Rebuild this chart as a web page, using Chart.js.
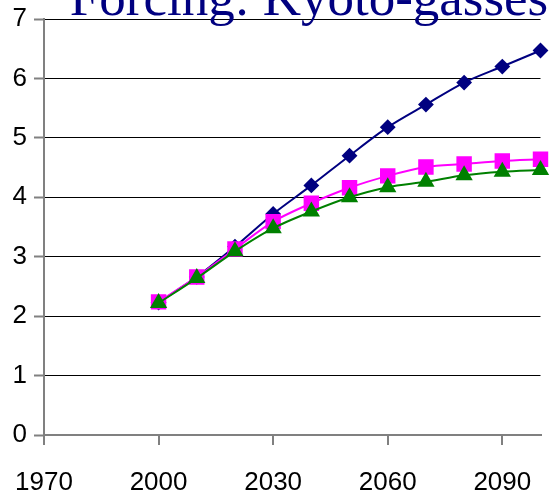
<!DOCTYPE html>
<html>
<head>
<meta charset="utf-8">
<script src="https://cdn.jsdelivr.net/npm/chart.js@4/dist/chart.umd.min.js"></script>
<style>
  html, body { margin: 0; padding: 0; background: #fff; }
  #wrap { width: 552px; height: 494px; position: relative; }
</style>
</head>
<body>
<div id="wrap"><canvas id="c" width="552" height="494"></canvas></div>
<script>
// Radiative forcing of Kyoto gases, three scenarios (W/m2)
const years = [2000, 2010, 2020, 2030, 2040, 2050, 2060, 2070, 2080, 2090, 2100];
const seriesHigh = [2.23, 2.66, 3.17, 3.72, 4.20, 4.70, 5.18, 5.56, 5.93, 6.20, 6.47];
const seriesMid  = [2.24, 2.66, 3.13, 3.59, 3.90, 4.16, 4.36, 4.51, 4.56, 4.61, 4.64];
const seriesLow  = [2.22, 2.64, 3.09, 3.48, 3.76, 4.00, 4.17, 4.26, 4.37, 4.43, 4.46];
const xTickValues = [1970, 2000, 2030, 2060, 2090];
const yTickValues = [0, 1, 2, 3, 4, 5, 6, 7];
const titleText = 'Forcing: Kyoto-gasses';

const toPoints = vals => years.map((yr, i) => ({ x: yr, y: vals[i] }));

const titlePlugin = {
  id: 'serifTitle',
  afterDraw(chart) {
    const ctx = chart.ctx;
    ctx.save();
    ctx.font = '53px "Liberation Serif", "Times New Roman", serif';
    ctx.fillStyle = '#000080';
    ctx.textAlign = 'center';
    ctx.textBaseline = 'alphabetic';
    ctx.fillText(titleText, 309, 15);
    ctx.restore();
  }
};

const tickFont = { family: '"Liberation Sans", Arial, sans-serif', size: 26 };

// keep the plot area fixed regardless of label overhang
const noScalePadding = s => {
  s.paddingLeft = 0; s.paddingRight = 0; s.paddingTop = 0; s.paddingBottom = 0;
};

new Chart(document.getElementById('c'), {
  type: 'line',
  data: {
    datasets: [
      {
        data: toPoints(seriesHigh),
        borderColor: '#000080', backgroundColor: '#000080',
        borderWidth: 2, pointStyle: 'rectRot', pointRadius: 6.5,
        tension: 0.3, order: 3, clip: false
      },
      {
        data: toPoints(seriesMid),
        borderColor: '#ff00ff', backgroundColor: '#ff00ff',
        borderWidth: 2, pointStyle: 'rect', pointRadius: 9.5,
        tension: 0.3, order: 2, clip: false
      },
      {
        data: toPoints(seriesLow),
        borderColor: '#008000', backgroundColor: '#008000',
        borderWidth: 2, pointStyle: 'triangle', pointRadius: 8,
        tension: 0.3, order: 1, clip: false
      }
    ]
  },
  options: {
    responsive: false,
    animation: false,
    events: [],
    layout: { padding: { top: 19, right: 10, left: 0, bottom: 0 } },
    plugins: { legend: { display: false }, tooltip: { enabled: false }, title: { display: false } },
    scales: {
      x: {
        type: 'linear',
        min: 1970, max: 2100,
        afterBuildTicks: s => { s.ticks = xTickValues.map(v => ({ value: v })); },
        afterFit: s => { s.height = 59; noScalePadding(s); },
        ticks: { font: tickFont, color: '#000', padding: 22, maxRotation: 0, autoSkip: false,
                 callback: v => String(v) },
        grid: { drawOnChartArea: false, drawTicks: true, tickLength: 10, color: '#808080', lineWidth: 2 },
        border: { display: true, color: '#808080', width: 2 }
      },
      y: {
        type: 'linear',
        min: 0, max: 7,
        afterBuildTicks: s => { s.ticks = yTickValues.map(v => ({ value: v })); },
        afterFit: s => { s.width = 44; noScalePadding(s); },
        ticks: { font: tickFont, color: '#000', padding: 7, callback: v => String(v) },
        grid: {
          drawOnChartArea: true, drawTicks: true, tickLength: 10,
          color: '#000', lineWidth: 1,
          tickColor: '#808080', tickWidth: 2
        },
        border: { display: true, color: '#808080', width: 2 }
      }
    }
  },
  plugins: [titlePlugin]
});
</script>
</body>
</html>
